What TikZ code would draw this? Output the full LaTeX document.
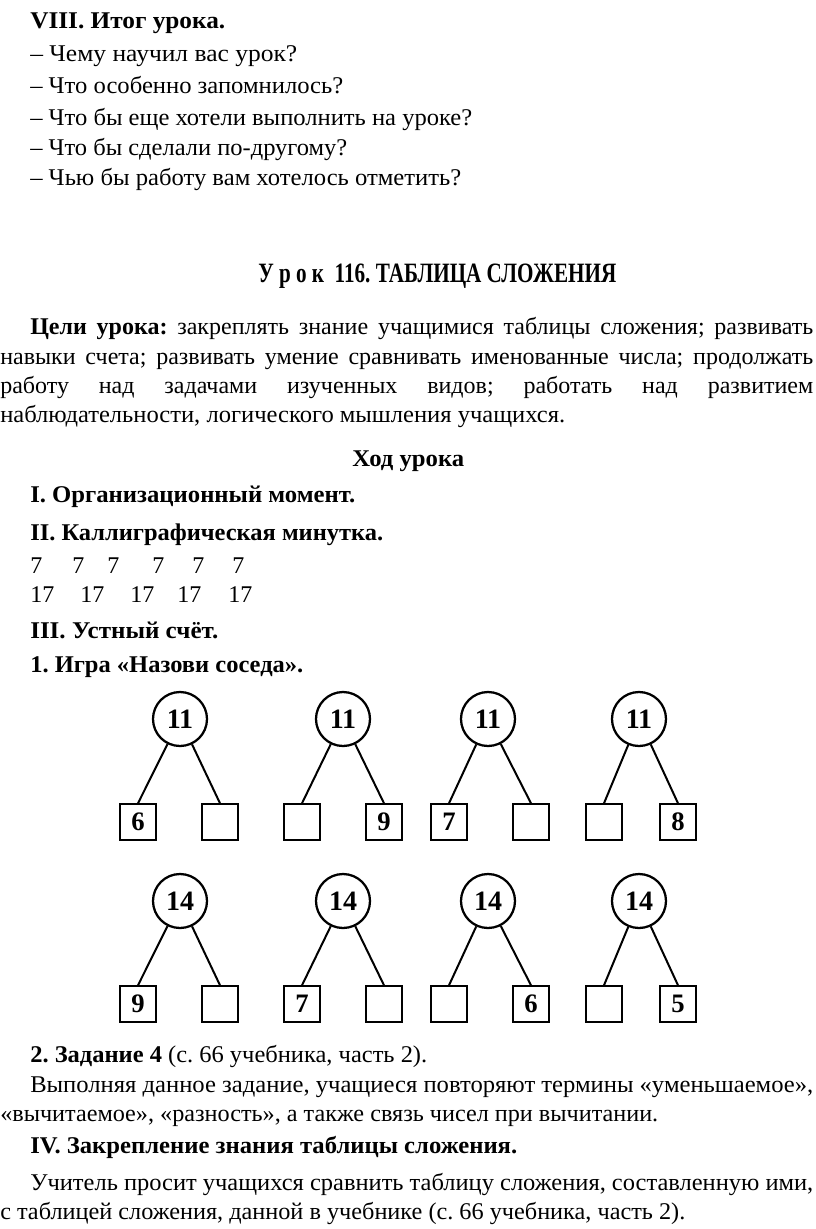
\documentclass[tikz,border=0pt]{standalone}
\usepackage{fontspec}
\setmainfont{Liberation Serif}
\usepackage{graphicx}
\usetikzlibrary{positioning}

\frenchspacing
\newlength{\px}
\setlength{\px}{0.75pt}
\newcommand{\fitto}[2]{\resizebox{#1\px}{\height}{#2}}
\newcommand{\spreadto}[2]{\makebox[#1\px][s]{#2}}

\begin{document}
\begin{tikzpicture}[
    x=0.75pt, y=-0.75pt,
    txt/.style={anchor=base west, inner sep=0pt, font=\fontsize{18}{22}\selectfont},
    hdr/.style={txt, font=\fontsize{18}{22}\selectfont\bfseries},
    sumnode/.style={circle, draw, line width=1.7pt, minimum size=40.5pt, inner sep=0pt, font=\fontsize{21}{24}\selectfont\bfseries},
    cell/.style={rectangle, draw, line width=1.1pt, minimum size=27pt, inner sep=0pt, font=\fontsize{20}{24}\selectfont\bfseries},
    link/.style={line width=1.5pt},
]
    \useasboundingbox (0,0) rectangle (816,1229);

    \node[hdr] (itog) at (30,28) {\fitto{195}{VIII. Итог урока.}};
    \node[txt] (q1) at (30,61) {\fitto{267}{– Чему научил вас урок?}};
    \node[txt] (q2) at (30,93) {\fitto{313}{– Что особенно запомнилось?}};
    \node[txt] (q3) at (30,125) {\fitto{442}{– Что бы еще хотели выполнить на уроке?}};
    \node[txt] (q4) at (30,155) {\fitto{317}{– Что бы сделали по-другому?}};
    \node[txt] (q5) at (30,185) {\fitto{431}{– Чью бы работу вам хотелось отметить?}};

    \node[hdr, font=\fontsize{21}{24}\selectfont\bfseries] (title) at (258,282) {\fitto{358}{У р о к\ \ 116. ТАБЛИЦА СЛОЖЕНИЯ}};

    \node[txt] (aim1) at (30,334) {\spreadto{783}{\textbf{Цели урока:} закреплять знание учащимися таблицы сложения; развивать}};
    \node[txt] (aim2) at (0,364) {\spreadto{813}{навыки счета; развивать умение сравнивать именованные числа; продолжать}};
    \node[txt] (aim3) at (0,393) {\spreadto{813}{работу над задачами изученных видов; работать над развитием}};
    \node[txt] (aim4) at (0,422) {\fitto{565}{наблюдательности, логического мышления учащихся.}};

    \node[hdr] (hod) at (352,466) {\fitto{112}{Ход урока}};
    \node[hdr] (s1) at (30,502) {\fitto{325}{I. Организационный момент.}};
    \node[hdr] (s2) at (30,540) {\fitto{353}{II. Каллиграфическая минутка.}};

    \foreach \x [count=\k] in {30,72,107,152,192,232}
        \node[txt] (seven\k) at (\x,573) {7};
    \foreach \x [count=\k] in {30,80,130,177,228}
        \node[txt] (seventeen\k) at (\x,602) {17};

    \node[hdr] (s3) at (30,638) {\fitto{188}{III. Устный счёт.}};
    \node[hdr] (game) at (30,672) {\fitto{273}{1. Игра «Назови соседа».}};

    \foreach \n/\cx/\lx/\rx/\cy/\tv/\lv/\rv in {
        1/180/138/220/719/11/6/{}, 2/343/302/384/719/11/{}/9,
        3/488/449/531/719/11/7/{}, 4/639/604/678/719/11/{}/8,
        5/180/138/220/901/14/9/{}, 6/343/302/384/901/14/7/{},
        7/488/449/531/901/14/{}/6, 8/639/604/678/901/14/{}/5}
    {
        \node[sumnode] (c\n) at (\cx,\cy) {\tv};
        \node[cell] (l\n) at (\lx,\cy+103) {\lv};
        \node[cell] (r\n) at (\rx,\cy+103) {\rv};
        \draw[link] (c\n) -- (l\n.north);
        \draw[link] (c\n) -- (r\n.north);
    }

    \node[txt] (task) at (30,1062) {\fitto{397}{\textbf{2. Задание 4} (с. 66 учебника, часть 2).}};
    \node[txt] (do1) at (30,1092) {\fitto{783}{Выполняя данное задание, учащиеся повторяют термины «уменьшаемое»,}};
    \node[txt] (do2) at (0,1121) {\fitto{658}{«вычитаемое», «разность», а также связь чисел при вычитании.}};
    \node[hdr] (s4) at (30,1153) {\fitto{487}{IV. Закрепление знания таблицы сложения.}};
    \node[txt] (cmp1) at (30,1190) {\fitto{783}{Учитель просит учащихся сравнить таблицу сложения, составленную ими,}};
    \node[txt] (cmp2) at (0,1219) {\fitto{685}{с таблицей сложения, данной в учебнике (с. 66 учебника, часть 2).}};
\end{tikzpicture}
\end{document}
